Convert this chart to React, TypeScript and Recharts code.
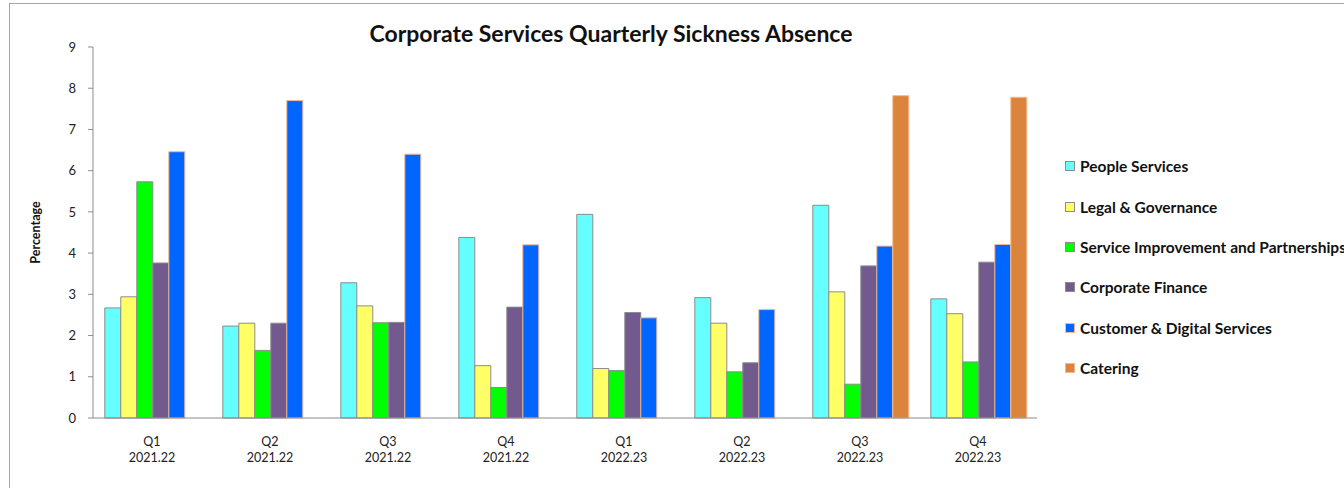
import React from 'react';
import { BarChart, Bar, XAxis, YAxis } from 'recharts';

// quarter labels (two lines)
const quarters = ['Q1', 'Q2', 'Q3', 'Q4', 'Q1', 'Q2', 'Q3', 'Q4'];
const years = ['2021.22', '2021.22', '2021.22', '2021.22', '2022.23', '2022.23', '2022.23', '2022.23'];

// series values (percentage)
const peopleServices = [2.67, 2.23, 3.28, 4.38, 4.94, 2.92, 5.16, 2.89];
const legalGovernance = [2.94, 2.3, 2.72, 1.27, 1.2, 2.3, 3.06, 2.53];
const serviceImprovement = [5.73, 1.64, 2.31, 0.74, 1.15, 1.12, 0.82, 1.36];
const corporateFinance = [3.76, 2.3, 2.32, 2.69, 2.56, 1.34, 3.69, 3.78];
const customerDigital = [6.46, 7.7, 6.4, 4.2, 2.43, 2.63, 4.17, 4.21];
const catering = [null, null, null, null, null, null, 7.82, 7.78];

const yTicks = [0, 1, 2, 3, 4, 5, 6, 7, 8, 9];

const series = [
  { key: 'people', name: 'People Services', values: peopleServices, fill: '#66ffff', stroke: '#8c8c8c' },
  { key: 'legal', name: 'Legal & Governance', values: legalGovernance, fill: '#ffff66', stroke: '#8c8c8c' },
  { key: 'service', name: 'Service Improvement and Partnerships', values: serviceImprovement, fill: '#00ff00', stroke: '#8c8c8c' },
  { key: 'finance', name: 'Corporate Finance', values: corporateFinance, fill: '#725a8f', stroke: '#8c8c8c' },
  { key: 'customer', name: 'Customer & Digital Services', values: customerDigital, fill: '#0066ff', stroke: '#f4b98f' },
  { key: 'catering', name: 'Catering', values: catering, fill: '#db843d', stroke: '#f4b98f' },
];

const data = quarters.map((q, i) => {
  const row: any = { name: `${q} ${years[i]}`, q, year: years[i] };
  series.forEach((s) => {
    row[s.key] = s.values[i];
  });
  return row;
});

const FONT = 'Lato, "Open Sans", sans-serif';

const QuarterTick = ({ x, y, index }: any) => (
  <text x={x} y={y} textAnchor="middle" fontSize={12.5} fill="#222" fontFamily={FONT}>
    <tspan x={x} dy={20}>{quarters[index]}</tspan>
    <tspan x={x} dy={16}>{years[index]}</tspan>
  </text>
);

const YLabel = ({ viewBox }: any) => {
  const cx = 35;
  const cy = viewBox.y + viewBox.height / 2;
  return (
    <text
      x={cx}
      y={cy}
      transform={`rotate(-90, ${cx}, ${cy})`}
      textAnchor="middle"
      dominantBaseline="central"
      fontSize={12.5}
      fontWeight={700}
      fontFamily={FONT}
      fill="#111"
    >
      Percentage
    </text>
  );
};

export default function App() {
  return (
    <div
      style={{
        position: 'fixed',
        left: 0,
        top: 0,
        width: 1344,
        height: 488,
        overflow: 'hidden',
        background: '#fff',
      }}
    >
      <div
        style={{
          position: 'absolute',
          left: 9,
          top: 3,
          width: 1400,
          height: 600,
          borderLeft: '1px solid #a6a6a6',
          borderTop: '1px solid #a6a6a6',
        }}
      />
      <div
        style={{
          position: 'absolute',
          left: 0,
          top: 19,
          width: 1222,
          textAlign: 'center',
          fontFamily: FONT,
          fontWeight: 700,
          fontSize: 23,
          color: '#111',
        }}
      >
        Corporate Services Quarterly Sickness Absence
      </div>
      <BarChart
        width={1344}
        height={488}
        data={data}
        margin={{ top: 47, right: 307, left: 33, bottom: 30 }}
        barCategoryGap="10%"
        barGap={0}
        style={{ position: 'absolute', left: 0, top: 0 }}
      >
        <XAxis
          dataKey="name"
          height={40}
          tick={<QuarterTick />}
          tickLine={false}
          axisLine={{ stroke: '#8c8c8c' }}
          interval={0}
        />
        <YAxis
          width={60}
          domain={[0, 9]}
          ticks={yTicks}
          interval={0}
          tickSize={5}
          tickMargin={12}
          tick={{ fontSize: 13, fill: '#222', fontFamily: FONT }}
          tickLine={{ stroke: '#8c8c8c' }}
          axisLine={{ stroke: '#8c8c8c' }}
          label={<YLabel />}
        />
        {series.map((s) => (
          <Bar
            key={s.key}
            dataKey={s.key}
            name={s.name}
            fill={s.fill}
            stroke={s.stroke}
            strokeWidth={1}
            isAnimationActive={false}
          />
        ))}
      </BarChart>
      <div
        style={{
          position: 'absolute',
          left: 1065,
          top: 146,
          width: 300,
          fontFamily: FONT,
          fontWeight: 700,
          fontSize: 15.5,
          color: '#111',
        }}
      >
        {series.map((s) => (
          <div key={s.key} style={{ display: 'flex', alignItems: 'center', height: 40.4, whiteSpace: 'nowrap' }}>
            <span
              style={{
                display: 'inline-block',
                width: 8,
                height: 8,
                background: s.fill,
                border: `1px solid ${s.stroke}`,
                marginRight: 5,
              }}
            />
            {s.name}
          </div>
        ))}
      </div>
    </div>
  );
}
